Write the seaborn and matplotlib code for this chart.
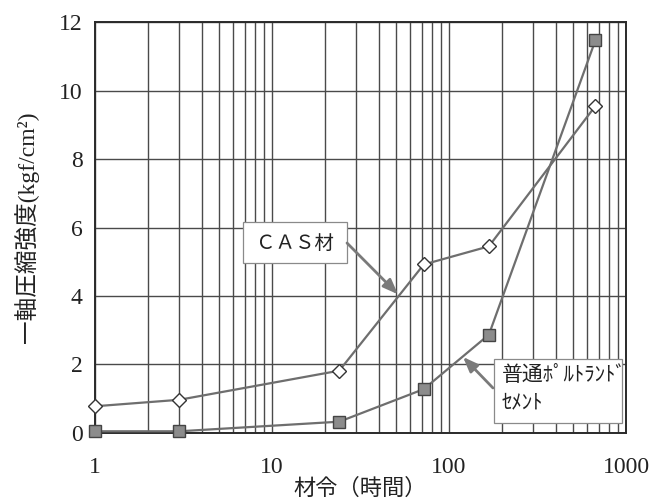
import matplotlib
matplotlib.use("Agg")
import matplotlib.pyplot as plt
import seaborn as sns
import numpy as np
import pandas as pd
from matplotlib.patches import Rectangle
from matplotlib.ticker import FixedLocator, NullFormatter, LogLocator

# ---- data ----
age_hours = [1, 3, 24, 72, 168, 672]
cas_strength = [0.78, 0.97, 1.82, 4.92, 5.45, 9.55]
opc_strength = [0.05, 0.05, 0.33, 1.28, 2.87, 11.47]
x_tick_values = [1, 10, 100, 1000]
x_tick_labels = ["1", "10", "100", "1000"]
y_tick_values = [0, 2, 4, 6, 8, 10, 12]
cas_label = "ＣＡＳ材"
opc_label = "普通ﾎﾟﾙﾄﾗﾝﾄﾞ\nｾﾒﾝﾄ"
x_title = "材令（時間）"
y_title = "一軸圧縮強度(kgf/cm²)"

sns.set_style("white")
plt.rcParams["font.family"] = ["Liberation Serif", "Noto Sans CJK JP", "DejaVu Sans"]

df_cas = pd.DataFrame({"age": age_hours, "strength": cas_strength})
df_opc = pd.DataFrame({"age": age_hours, "strength": opc_strength})

fig = plt.figure(figsize=(6.57, 5.04), dpi=100)
ax = fig.add_axes([0.1446, 0.1409, 0.8082, 0.8154])

line_col = "#6e6e6e"
sns.lineplot(data=df_cas, x="age", y="strength", ax=ax, color=line_col, lw=1.6,
             marker="D", markersize=7, markerfacecolor="white",
             markeredgecolor="#333333", markeredgewidth=1.0, clip_on=False, zorder=5)
sns.lineplot(data=df_opc, x="age", y="strength", ax=ax, color=line_col, lw=1.6,
             marker="s", markersize=8, markerfacecolor="#8c8c8c",
             markeredgecolor="#444444", markeredgewidth=1.0, clip_on=False, zorder=5)

ax.set_xscale("log")
ax.set_xlim(1, 1000)
ax.set_ylim(0, 12)
ax.xaxis.set_major_locator(FixedLocator(x_tick_values))
ax.set_xticklabels(x_tick_labels)
ax.xaxis.set_minor_locator(LogLocator(base=10, subs=np.arange(2, 10)))
ax.xaxis.set_minor_formatter(NullFormatter())
ax.set_yticks(y_tick_values)
ax.set_yticklabels([str(v) for v in y_tick_values])

ax.grid(True, which="both", axis="x", color="#4a4a4a", lw=1.0)
ax.grid(True, which="major", axis="y", color="#4a4a4a", lw=1.0)
ax.set_axisbelow(True)

ax.tick_params(axis="both", which="both", length=0)
ax.tick_params(axis="x", which="major", pad=17, labelsize=17, labelcolor="#222222")
ax.tick_params(axis="y", which="major", pad=9, labelsize=17, labelcolor="#222222")

for s in ax.spines.values():
    s.set_color("#2a2a2a")
    s.set_linewidth(1.4)

ax.set_xlabel(x_title, fontsize=16, labelpad=1, color="#222222")
ax.set_ylabel(y_title, fontsize=17, labelpad=14, color="#222222")

# annotation boxes (axes fraction)
box_kw = dict(transform=ax.transAxes, facecolor="white", edgecolor="#8a8a8a",
              lw=0.9, zorder=6, clip_on=False)
ax.add_patch(Rectangle((0.2787, 0.4137), 0.1959, 0.0998, **box_kw))
ax.text(0.3766, 0.4623, cas_label, transform=ax.transAxes, ha="center", va="center",
        fontsize=14, family=["Noto Sans CJK JP"], color="#222222", zorder=7)
ax.annotate("", xy=(51.5, 4.05), xycoords="data",
            xytext=(0.4746, 0.4623), textcoords="axes fraction",
            arrowprops=dict(arrowstyle="-|>,head_length=0.9,head_width=0.35",
                            color="#7a7a7a", lw=2.0, shrinkA=0, shrinkB=0),
            zorder=7)

ax.add_patch(Rectangle((0.7514, 0.0243), 0.2411, 0.1557, **box_kw))
ax.text(0.7665, 0.1083, opc_label, transform=ax.transAxes, ha="left", va="center",
        fontsize=15, family=["Noto Sans CJK JP"], color="#222222", zorder=7,
        linespacing=1.35)
ax.annotate("", xy=(120, 2.22), xycoords="data",
            xytext=(0.7495, 0.1095), textcoords="axes fraction",
            arrowprops=dict(arrowstyle="-|>,head_length=0.9,head_width=0.35",
                            color="#7a7a7a", lw=2.0, shrinkA=0, shrinkB=0),
            zorder=7)

fig.savefig("out.png", dpi=100)
